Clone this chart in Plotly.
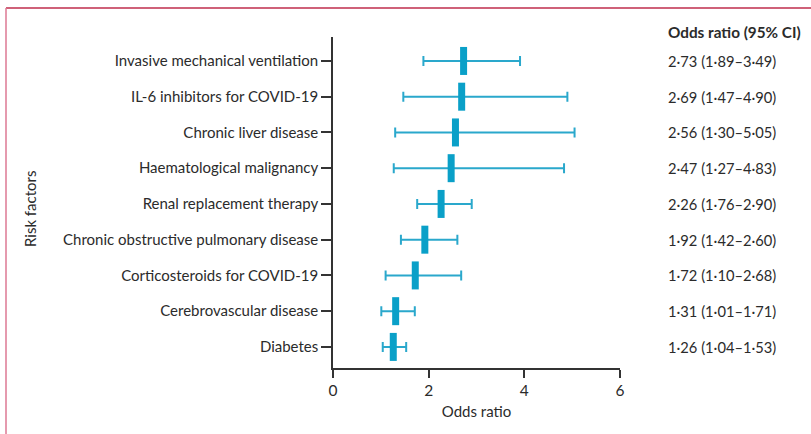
import plotly.graph_objects as go

factors = [
    "Invasive mechanical ventilation",
    "IL-6 inhibitors for COVID-19",
    "Chronic liver disease",
    "Haematological malignancy",
    "Renal replacement therapy",
    "Chronic obstructive pulmonary disease",
    "Corticosteroids for COVID-19",
    "Cerebrovascular disease",
    "Diabetes",
]
odds = [2.73, 2.69, 2.56, 2.47, 2.26, 1.92, 1.72, 1.31, 1.26]
lower = [1.89, 1.47, 1.30, 1.27, 1.76, 1.42, 1.10, 1.01, 1.04]
# drawn upper limits (first bar is drawn to ~3.9)
upper = [3.91, 4.90, 5.05, 4.83, 2.90, 2.60, 2.68, 1.71, 1.53]
ci_text = [
    "2·73 (1·89–3·49)",
    "2·69 (1·47–4·90)",
    "2·56 (1·30–5·05)",
    "2·47 (1·27–4·83)",
    "2·26 (1·76–2·90)",
    "1·92 (1·42–2·60)",
    "1·72 (1·10–2·68)",
    "1·31 (1·01–1·71)",
    "1·26 (1·04–1·53)",
]
x_ticks = [0, 2, 4, 6]

n = len(factors)
ypos = [n - 1 - i for i in range(n)]

W, H = 811, 434
L, R, T, B = 333, 191, 37, 66
pw, ph = W - L - R, H - T - B

font = "Lato, 'Open Sans', sans-serif"
txt = "#2b2b2b"

fig = go.Figure()
fig.add_trace(go.Scatter(
    x=odds, y=ypos, mode="markers",
    marker=dict(symbol="line-ns", size=20, color="#0aa0c8",
                line=dict(width=7, color="#0aa0c8")),
    error_x=dict(type="data", symmetric=False,
                 array=[u - o for u, o in zip(upper, odds)],
                 arrayminus=[o - l for o, l in zip(odds, lower)],
                 color="#2aa8cc", thickness=2, width=5),
    hoverinfo="skip", showlegend=False,
))

for yv, t in zip(ypos, ci_text):
    fig.add_annotation(x=(668 - L) / pw, xref="paper", y=yv, yref="y",
                       text=t, showarrow=False, xanchor="left", yanchor="middle", xshift=-2,
                       font=dict(family=font, size=14.7, color=txt))
fig.add_annotation(x=(668 - L) / pw, xref="paper", y=(H - B - 32) / ph, yref="paper",
                   text="<b>Odds ratio (95% CI)</b>", showarrow=False,
                   xanchor="left", yanchor="middle", xshift=-2,
                   font=dict(family=font, size=15.3, color=txt))
fig.add_annotation(x=(30 - L) / pw, xref="paper", y=(H - B - 209) / ph, yref="paper",
                   text="Risk factors", showarrow=False, textangle=-90,
                   xanchor="center", yanchor="middle",
                   font=dict(family=font, size=15, color=txt))

fig.add_shape(type="line", xref="paper", yref="paper",
              x0=(6 - L) / pw, x1=(W - L) / pw,
              y0=(H - B - 8) / ph, y1=(H - B - 8) / ph,
              line=dict(color="#bf2d4d", width=1.5))
fig.add_shape(type="line", xref="paper", yref="paper",
              x0=(6 - L) / pw, x1=(6 - L) / pw,
              y0=(H - B - 8) / ph, y1=(H - B - H) / ph,
              line=dict(color="#dc7893", width=1.5))

fig.update_layout(
    width=W, height=H,
    margin=dict(l=L, r=R, t=T, b=B),
    paper_bgcolor="white", plot_bgcolor="white",
    font=dict(family=font, size=15, color=txt),
    xaxis=dict(range=[0, 6], tickvals=x_ticks, ticktext=[str(v) for v in x_ticks],
               showgrid=False, zeroline=False, showline=True, linecolor="#333",
               linewidth=1.5, ticks="outside", ticklen=8, tickwidth=1.5, tickcolor="#333",
               tickfont=dict(size=15.5),
               title=dict(text="Odds ratio", standoff=8,
                          font=dict(family=font, size=15, color=txt)),
               fixedrange=True),
    yaxis=dict(range=[-0.59, n - 1 + 0.67], tickvals=ypos, ticktext=factors,
               showgrid=False, zeroline=False, showline=True, linecolor="#333",
               linewidth=1.5, ticks="outside", ticklen=10, tickwidth=1.5, tickcolor="#333",
               fixedrange=True),
)

fig.write_html("out.html", config={"displayModeBar": False},
               post_script="document.body.style.margin='0';")
